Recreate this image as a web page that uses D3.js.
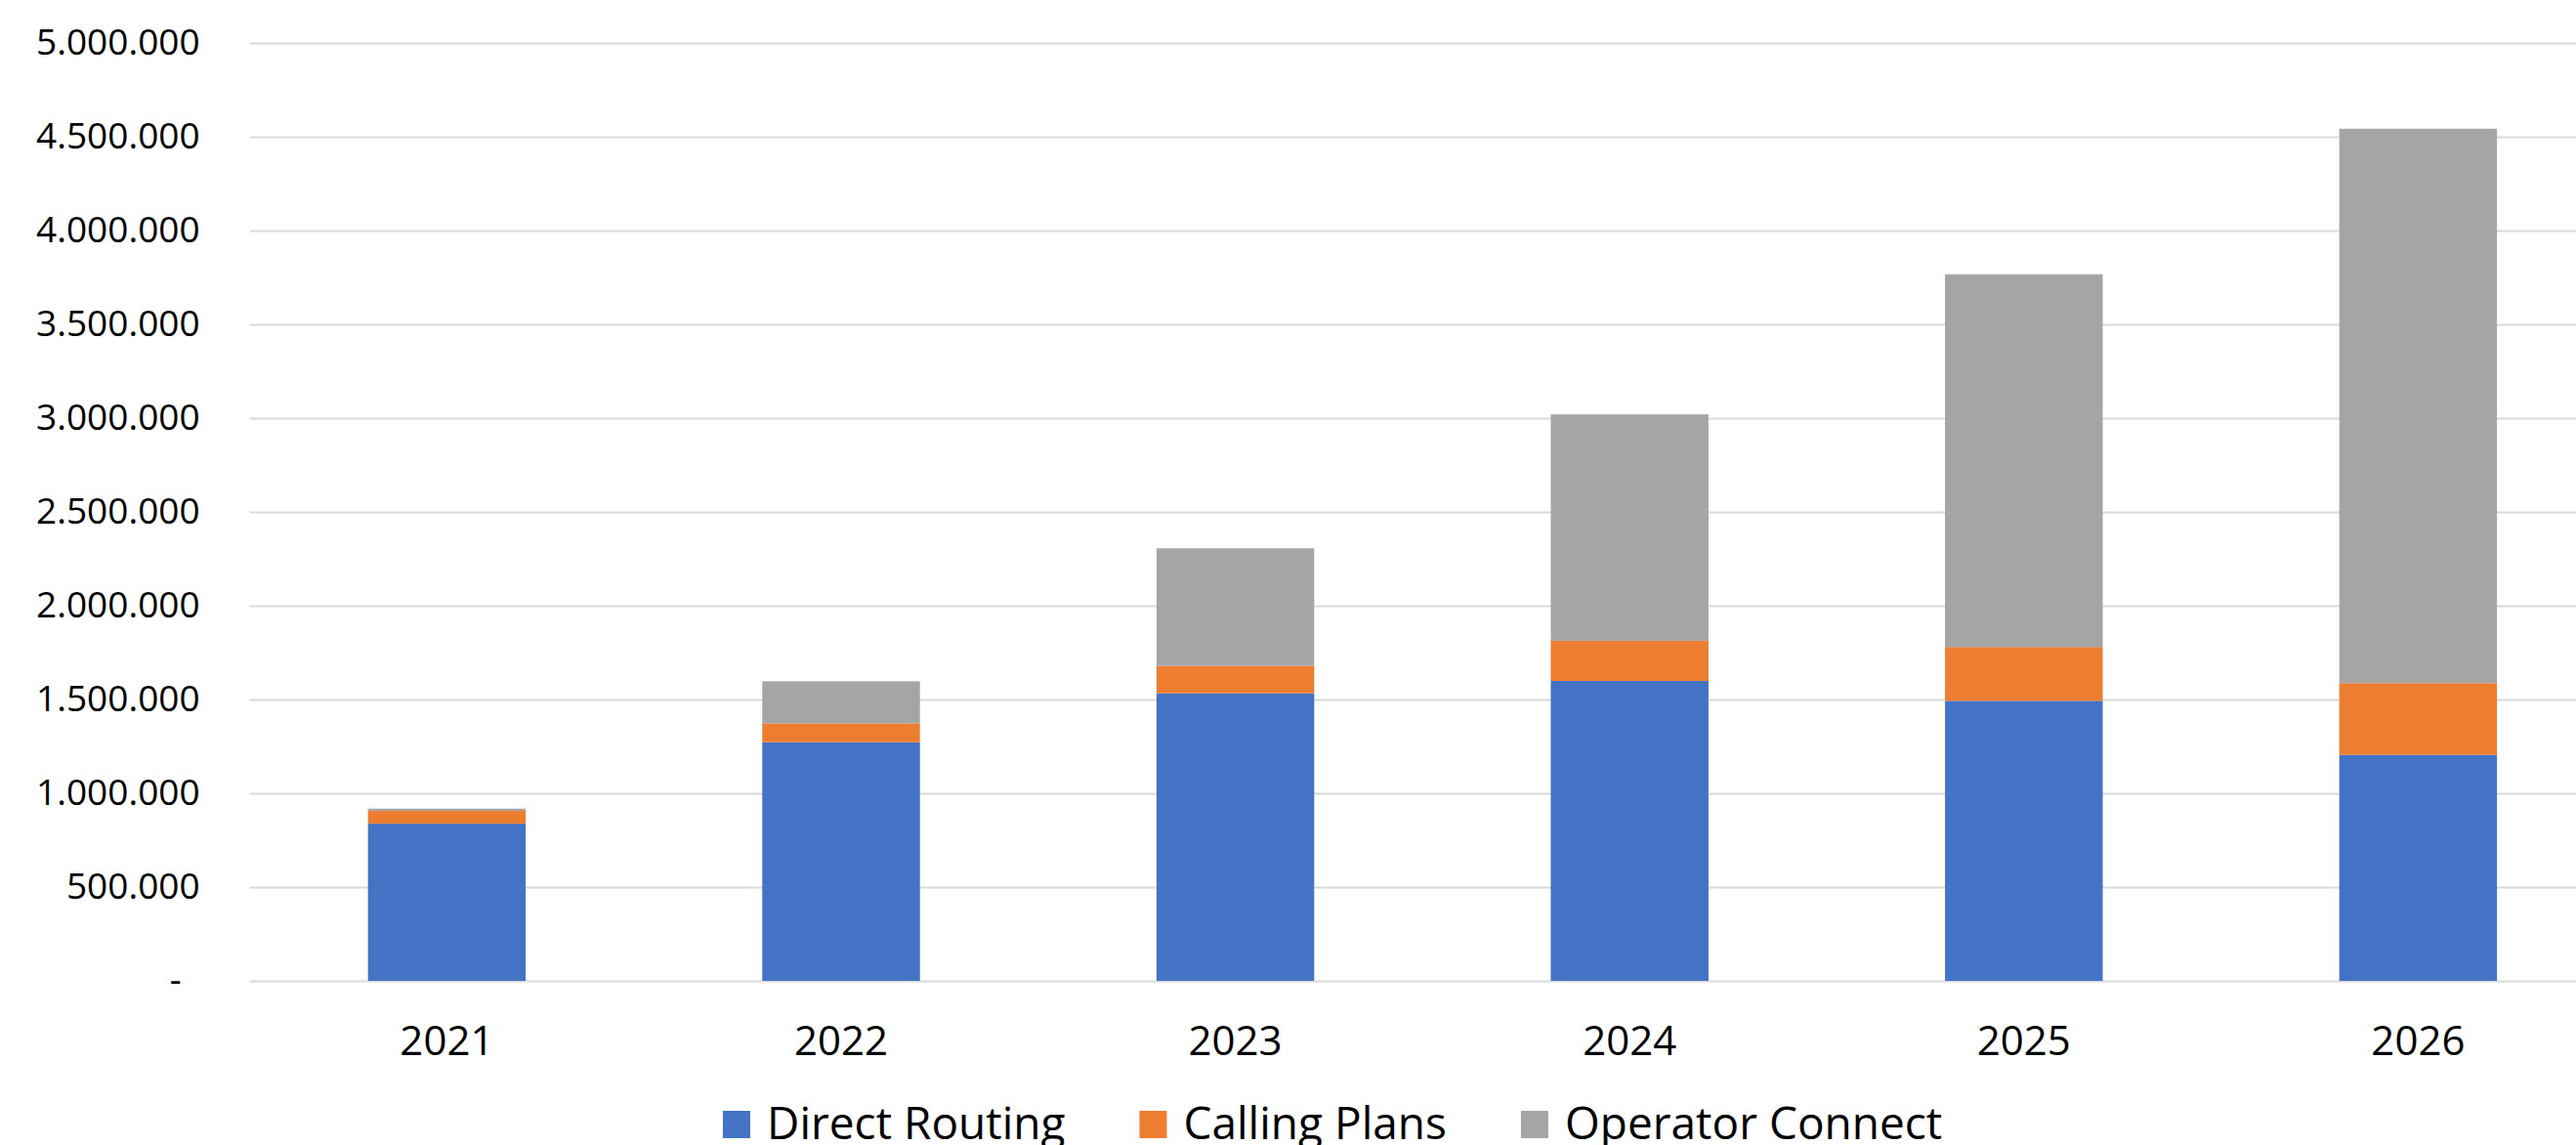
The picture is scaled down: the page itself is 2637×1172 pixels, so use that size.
<!DOCTYPE html>
<html>
<head>
<meta charset="utf-8">
<script src="https://cdn.jsdelivr.net/npm/d3@7"></script>
<style>
  body { margin: 0; background: #fff; }
  svg { display: block; font-family: "Open Sans", sans-serif; }
</style>
</head>
<body>
<div id="chart"></div>
<script>
const years = ["2021", "2022", "2023", "2024", "2025", "2026"];
const seriesNames = ["Direct Routing", "Calling Plans", "Operator Connect"];
const directRouting = [838000, 1272000, 1533000, 1599000, 1493000, 1205000];
const callingPlans = [68000, 101000, 146000, 214000, 287000, 382000];
const operatorConnect = [12000, 224000, 627000, 1207000, 1987000, 2956000];
const yTicks = [0, 500000, 1000000, 1500000, 2000000, 2500000, 3000000, 3500000, 4000000, 4500000, 5000000];
const colors = ["#4472C4", "#ED7D31", "#A5A5A5"];

const WIDTH = 2637;
const HEIGHT = 1172;
const MARGIN = { TOP: 44, LEFT: 255.6, BOTTOM: 168 };
const STEP = 403.6;   // plot runs past the right edge (cropped in the original)
const FONT = "'Open Sans', sans-serif";

const svg = d3.select("#chart")
    .append("svg")
    .attr("width", WIDTH)
    .attr("height", HEIGHT);

// build a table for the stack
const table = years.map((y, i) => ({
    year: y,
    "Direct Routing": directRouting[i],
    "Calling Plans": callingPlans[i],
    "Operator Connect": operatorConnect[i]
}));

const x = d3.scaleBand()
    .domain(years)
    .range([MARGIN.LEFT, MARGIN.LEFT + STEP * years.length])
    .paddingInner(0.6)
    .paddingOuter(0.3);

const y = d3.scaleLinear()
    .domain([0, 5000000])
    .range([HEIGHT - MARGIN.BOTTOM, MARGIN.TOP]);

const locale = d3.formatLocale({ decimal: ",", thousands: ".", grouping: [3], currency: ["", ""] });
const fmt = locale.format(",.0f");

// y axis with gridlines
const yAxisGroup = svg.append("g")
    .attr("transform", `translate(${MARGIN.LEFT}, 0)`)
    .call(d3.axisLeft(y)
        .tickValues(yTicks)
        .tickSizeInner(-(WIDTH - MARGIN.LEFT))
        .tickSizeOuter(0)
        .tickPadding(51)
        .tickFormat(d => d === 0 ? "-" : fmt(d)));

yAxisGroup.attr("font-family", FONT);
yAxisGroup.select(".domain").remove();
yAxisGroup.selectAll(".tick line")
    .attr("stroke", "#d9d9d9")
    .attr("stroke-width", 2);
yAxisGroup.selectAll(".tick text")
    .attr("fill", "#000")
    .style("font-size", "37px")
    .attr("dx", d => d === 0 ? -19 : 0);

// x axis labels
const xAxisGroup = svg.append("g")
    .attr("transform", `translate(0, ${HEIGHT - MARGIN.BOTTOM})`)
    .call(d3.axisBottom(x).tickSize(0).tickPadding(46));

xAxisGroup.attr("font-family", FONT);
xAxisGroup.select(".domain").remove();
xAxisGroup.selectAll(".tick text")
    .attr("fill", "#000")
    .style("font-size", "42px");

// stacked bars
const stacked = d3.stack().keys(seriesNames)(table);

svg.append("g")
    .selectAll("g")
    .data(stacked)
    .enter().append("g")
    .attr("fill", (d, i) => colors[i])
    .selectAll("rect")
    .data(d => d)
    .enter().append("rect")
    .attr("x", d => x(d.data.year))
    .attr("width", x.bandwidth())
    .attr("y", d => y(d[1]))
    .attr("height", d => y(d[0]) - y(d[1]));

// legend
const legend = svg.append("g")
    .attr("transform", "translate(740, 1137)");

let lx = 0;
seriesNames.forEach((name, i) => {
    const item = legend.append("g").attr("transform", `translate(${lx}, 0)`);
    item.append("rect")
        .attr("width", 28)
        .attr("height", 28)
        .attr("fill", colors[i]);
    const t = item.append("text")
        .attr("x", 45)
        .attr("y", 29)
        .style("font-size", "46px")
        .attr("fill", "#000")
        .text(name);
    lx += 45 + t.node().getComputedTextLength() + 76;
});
</script>
</body>
</html>
